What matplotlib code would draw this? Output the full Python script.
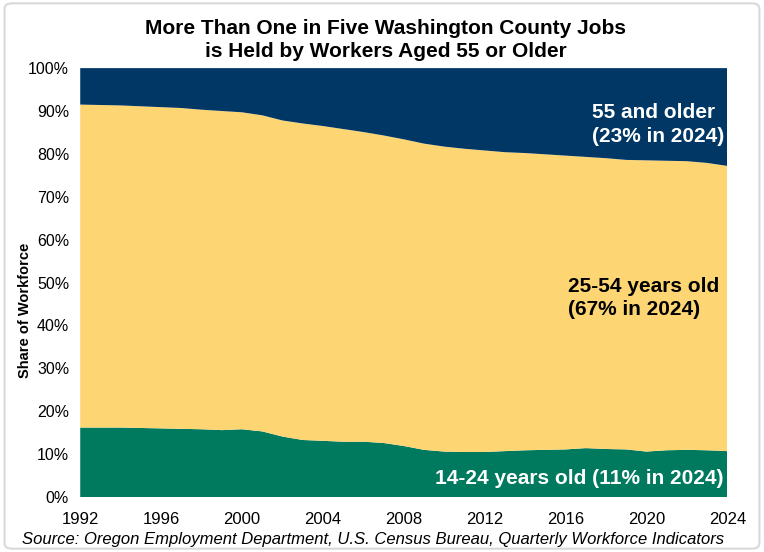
import numpy as np
import matplotlib
matplotlib.use("Agg")
import matplotlib.pyplot as plt
from matplotlib.patches import FancyBboxPatch

plt.rcParams['font.family'] = ['Liberation Sans', 'DejaVu Sans']

# share of workforce by age group, Washington County (percent)
years = list(range(1992, 2025))
age_14_24 = [16.2, 16.2, 16.2, 16.1, 16.0, 15.9, 15.8, 15.6, 15.8, 15.3,
             14.1, 13.3, 13.1, 12.9, 12.9, 12.6, 11.9, 11.0, 10.6, 10.5,
             10.5, 10.7, 10.9, 11.0, 11.1, 11.4, 11.2, 11.1, 10.6, 10.9,
             11.0, 10.9, 10.7]
age_55_up = [8.5, 8.6, 8.7, 8.9, 9.1, 9.3, 9.7, 10.0, 10.3, 11.0,
             12.2, 12.9, 13.5, 14.2, 14.9, 15.7, 16.6, 17.6, 18.3, 18.8,
             19.2, 19.6, 19.8, 20.1, 20.4, 20.7, 21.0, 21.4, 21.5, 21.6,
             21.7, 22.1, 22.8]
age_25_54 = [100 - a - b for a, b in zip(age_14_24, age_55_up)]

x_ticks = list(range(1992, 2025, 4))
y_ticks = list(range(0, 101, 10))

fig = plt.figure(figsize=(7.64, 5.52), dpi=100)
# light frame around the whole chart
fig.patches.append(FancyBboxPatch((0.006, 0.006), 0.988, 0.988, boxstyle="round,pad=0,rounding_size=0.01",
                                  transform=fig.transFigure, fill=False, edgecolor="#D9D9D9", linewidth=1.5))

ax = fig.add_axes([0.105, 0.0996, 0.847, 0.777])
ax.stackplot(years, age_14_24, age_25_54, age_55_up,
             colors=["#007A5E", "#FDD673", "#003764"], linewidth=0)

ax.set_xlim(1992, 2024)
ax.set_ylim(0, 100)
ax.set_xticks(x_ticks)
ax.set_yticks(y_ticks)
ax.set_yticklabels([f"{v}%" for v in y_ticks])
ax.tick_params(length=0)
ax.tick_params(axis="y", labelsize=11.5, pad=8)
ax.tick_params(axis="x", labelsize=12, pad=11)
for s in ax.spines.values():
    s.set_visible(False)
ax.set_ylabel("Share of Workforce", fontsize=10.5, fontweight="bold")
ax.yaxis.set_label_coords(-0.075, 0.436)

fig.text(0.505, 0.927, "More Than One in Five Washington County Jobs\nis Held by Workers Aged 55 or Older",
         ha="center", va="center", fontsize=15, fontweight="bold", linespacing=1.25)

ax.text(2017.3, 86.8, "55 and older\n(23% in 2024)", ha="left", va="center",
        color="white", fontsize=15, fontweight="bold", linespacing=1.32)
ax.text(2016.1, 46.4, "25-54 years old\n(67% in 2024)", ha="left", va="center",
        color="black", fontsize=15, fontweight="bold", linespacing=1.32)
ax.text(2023.8, 4.4, "14-24 years old (11% in 2024)", ha="right", va="center",
        color="white", fontsize=15, fontweight="bold")

fig.text(0.488, 0.022, "Source: Oregon Employment Department, U.S. Census Bureau, Quarterly Workforce Indicators",
         ha="center", va="center", fontsize=12, style="italic")

fig.savefig("out.png", dpi=100)
